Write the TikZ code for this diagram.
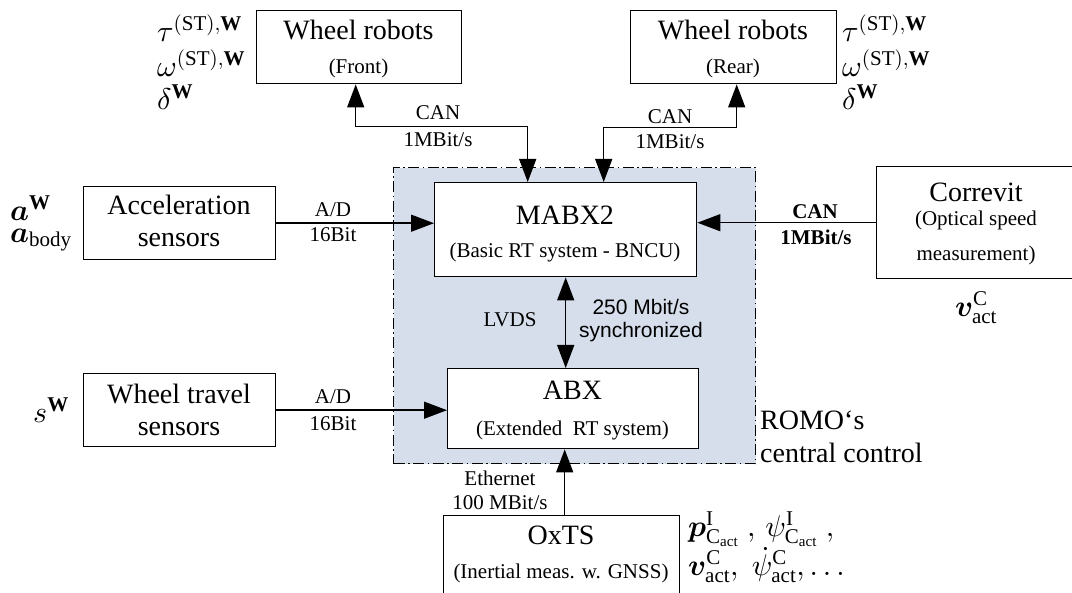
\documentclass[tikz,border=0pt]{standalone}
\usepackage{bm}
\usepackage{fontspec}
\setmainfont{Liberation Serif}
\newfontfamily\arialfont{Liberation Sans}
% scalable math fonts at any size
\DeclareFontShape{OML}{cmm}{m}{it}{<->cmmi10}{}
\DeclareFontShape{OML}{cmm}{b}{it}{<->cmmib10}{}
\DeclareFontShape{OMS}{cmsy}{m}{n}{<->cmsy10}{}
\DeclareFontShape{OMS}{cmsy}{b}{n}{<->cmbsy10}{}
\DeclareFontShape{OT1}{cmr}{m}{n}{<->cmr10}{}
\DeclareFontShape{OT1}{cmr}{bx}{n}{<->cmbx10}{}
\usetikzlibrary{arrows.meta}
\definecolor{ctrlfill}{RGB}{214,222,235}
\newcommand\fixedlines{\lineskiplimit=-100pt\relax}
\tikzset{
  box/.style={draw, line width=1.4pt, fill=white, inner sep=0pt},
  region/.style={draw, line width=1.4pt, fill=ctrlfill, inner sep=0pt,
    dash pattern=on 11pt off 3.5pt on 1.5pt off 3.5pt},
  conn/.style={line width=1.4pt, -{Triangle[length=23pt,width=17pt]}},
  biconn/.style={line width=1.4pt, {Triangle[length=23pt,width=17pt]}-{Triangle[length=23pt,width=17pt]}},
  title/.style={font=\fontsize{28}{30}\selectfont, inner sep=0pt},
  sub/.style={font=\fontsize{21}{24}\selectfont, inner sep=0pt},
  lab/.style={font=\fontsize{21}{24}\selectfont, inner sep=0pt},
  sym/.style={font=\fontsize{30}{34}\selectfont, inner sep=0pt, anchor=west},
}
\begin{document}
\begin{tikzpicture}[x=1pt,y=-1pt]
\useasboundingbox (0,0) rectangle (1072,593);

% central control area
\node[region, anchor=north west, minimum width=362pt, minimum height=296pt] (ctrl) at (393,167) {};
\node[title, anchor=west] (romo1) at (760,420) {ROMO‘s};
\node[title, anchor=west] (romo2) at (760,453) {central control};

% blocks
\node[box, anchor=north west, minimum width=205pt, minimum height=73pt] (front) at (256,10) {};
\node[title] (frontT) at (358.5,30) {Wheel robots};
\node[sub] (frontS) at (358.5,68) {(Front)};

\node[box, anchor=north west, minimum width=206pt, minimum height=73pt] (rear) at (630,10) {};
\node[title] (rearT) at (733,30) {Wheel robots};
\node[sub] (rearS) at (733,68) {(Rear)};

\node[box, anchor=north west, minimum width=262pt, minimum height=94pt] (mabx) at (434,182) {};
\node[title] (mabxT) at (565,215) {MABX2};
\node[sub] (mabxS) at (565,252) {(Basic RT system - BNCU)};

\node[box, anchor=north west, minimum width=251pt, minimum height=80pt] (abx) at (447,368) {};
\node[title] (abxT) at (572.5,390) {ABX};
\node[sub] (abxS) at (572.5,430) {(Extended\ \ RT system)};

\node[box, anchor=north west, minimum width=192pt, minimum height=73pt] (acc) at (83,186) {};
\node[title] (accT) at (179,205) {Acceleration};
\node[title] (accS) at (179,240) {sensors};

\node[box, anchor=north west, minimum width=192pt, minimum height=73pt] (wts) at (83,373) {};
\node[title] (wtsT) at (179,394) {Wheel travel};
\node[title] (wtsS) at (179,429) {sensors};

\node[box, anchor=north west, minimum width=198pt, minimum height=112pt] (corr) at (876,166) {};
\node[title] (corrT) at (976,192) {Correvit};
\node[sub] (corrS1) at (976,220) {(Optical speed};
\node[sub] (corrS2) at (976,255) {measurement)};

\node[box, anchor=north west, minimum width=236pt, minimum height=90pt] (oxts) at (443,515) {};
\node[title] (oxtsT) at (561,535) {OxTS};
\node[sub] (oxtsS) at (561,573) {(Inertial meas. w. GNSS)};

% connections
\draw[biconn] ([xshift=-3.5pt]front.south) -- ++(0,42) -| ([xshift=-38pt]mabx.north);
\draw[biconn] ([xshift=3pt]rear.south) -- ++(0,43) -| ([xshift=38pt]mabx.north);
\draw[conn] (acc.east) -- (acc.east -| mabx.west);
\draw[conn] (wts.east) -- (wts.east -| abx.west);
\draw[conn] (corr.west) -- (corr.west -| mabx.east);
\draw[biconn] (mabx.south) -- (mabx.south |- abx.north);
\draw[conn] ([xshift=3pt]oxts.north) -- ([xshift=3pt]oxts.north |- abx.south);

% connection labels
\node[lab] (canF) at (438,113) {CAN};
\node[lab] (rateF) at (438,140) {1MBit/s};
\node[lab] (canR) at (670,117) {CAN};
\node[lab] (rateR) at (670,142) {1MBit/s};
\node[lab] (adA) at (333,210) {A/D};
\node[lab] (bitA) at (333,235) {16Bit};
\node[lab] (adW) at (333,397) {A/D};
\node[lab] (bitW) at (333,424) {16Bit};
\node[lab, font=\fontsize{21}{24}\selectfont\bfseries] (canC) at (815,212) {CAN};
\node[lab, font=\fontsize{21}{24}\selectfont\bfseries] (rateC) at (816,237) {1MBit/s};
\node[lab] (lvds) at (510,320) {LVDS};
\node[lab, font=\fontsize{21}{24}\selectfont\arialfont] (sync1) at (641,307) {250 Mbit/s};
\node[lab, font=\fontsize{21}{24}\selectfont\arialfont] (sync2) at (641,332) {synchronized};
\node[lab] (eth1) at (500,478) {Ethernet};
\node[lab] (eth2) at (500,503) {100 MBit/s};

% signals
\node[sym] (tauF) at (157,28) {$\tau^{(\mathrm{ST}),\mathbf{W}}$};
\node[sym] (omF) at (157,63) {$\omega^{(\mathrm{ST}),\mathbf{W}}$};
\node[sym] (delF) at (157,97) {$\delta^{\mathbf{W}}$};
\node[sym] (tauR) at (842,28) {$\tau^{(\mathrm{ST}),\mathbf{W}}$};
\node[sym] (omR) at (842,63) {$\omega^{(\mathrm{ST}),\mathbf{W}}$};
\node[sym] (delR) at (842,97) {$\delta^{\mathbf{W}}$};
\node[sym] (aW) at (10,208) {$\bm{a}^{\mathbf{W}}$};
\node[sym] (aB) at (10,240) {$\bm{a}_{\mathrm{body}}$};
\node[sym] (sW) at (33,410) {$s^{\mathbf{W}}$};
\node[sym, anchor=center] (vC) at (976,308) {$\bm{v}^{\mathrm{C}}_{\mathrm{act}}$};
\node[sym, align=left, font={\fontsize{30}{39}\selectfont\fixedlines}] (ox) at (688,547)
  {$\bm{p}^{\mathrm{I}}_{\mathrm{C}_{\mathrm{act}}}\;,\,\psi^{\mathrm{I}}_{\mathrm{C}_{\mathrm{act}}}\;,$\\
   $\bm{v}^{\mathrm{C}}_{\mathrm{act}},\;\dot{\psi}^{\mathrm{C}}_{\mathrm{act}},\ldots$};
\end{tikzpicture}
\end{document}
